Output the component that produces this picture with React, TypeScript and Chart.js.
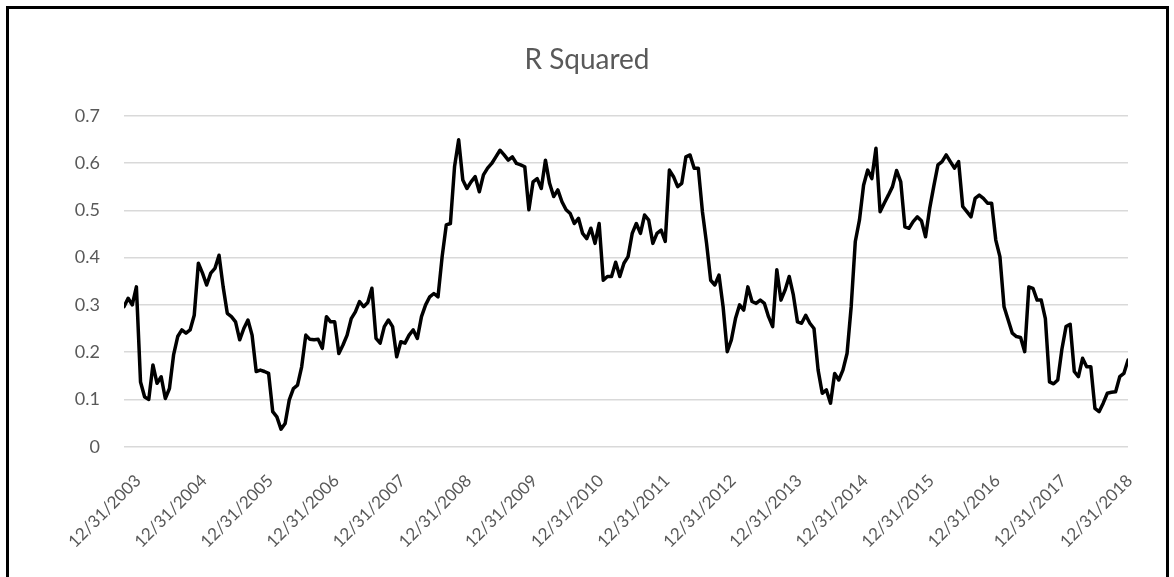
import { useEffect, useRef } from "react";
import { Chart, registerables } from "chart.js";

Chart.register(...registerables);

// x positions are years after 12/31/2003; one sample every 1/16 year
const startYear = -0.2125;
const stepYear = 1 / 16;

const rSquared = [
  0.296, 0.314, 0.3, 0.338, 0.137, 0.105, 0.1, 0.173, 0.134, 0.148,
  0.102, 0.123, 0.194, 0.233, 0.247, 0.24, 0.247, 0.278, 0.388, 0.367,
  0.342, 0.367, 0.377, 0.405, 0.338, 0.282, 0.275, 0.264, 0.226, 0.25,
  0.268, 0.236, 0.159, 0.162, 0.159, 0.155, 0.074, 0.063, 0.037, 0.049,
  0.099, 0.123, 0.13, 0.169, 0.236, 0.227, 0.226, 0.227, 0.208, 0.275,
  0.264, 0.264, 0.197, 0.215, 0.236, 0.271, 0.285, 0.307, 0.296, 0.305,
  0.335, 0.229, 0.219, 0.254, 0.268, 0.254, 0.19, 0.222, 0.219, 0.236,
  0.247, 0.229, 0.275, 0.3, 0.317, 0.324, 0.317, 0.402, 0.469, 0.472,
  0.592, 0.649, 0.564, 0.546, 0.56, 0.571, 0.539, 0.575, 0.589, 0.599,
  0.613, 0.627, 0.617, 0.606, 0.613, 0.599, 0.596, 0.592, 0.501, 0.56,
  0.567, 0.546, 0.606, 0.557, 0.529, 0.543, 0.518, 0.501, 0.493, 0.472,
  0.483, 0.451, 0.44, 0.462, 0.43, 0.472, 0.352, 0.36, 0.36, 0.39,
  0.36, 0.388, 0.402, 0.451, 0.472, 0.451, 0.49, 0.479, 0.43, 0.451,
  0.458, 0.434, 0.585, 0.571, 0.55, 0.557, 0.613, 0.617, 0.589, 0.589,
  0.497, 0.43, 0.352, 0.342, 0.363, 0.296, 0.201, 0.226, 0.271, 0.3,
  0.289, 0.338, 0.307, 0.303, 0.31, 0.303, 0.275, 0.254, 0.374, 0.31,
  0.331, 0.36, 0.321, 0.264, 0.261, 0.278, 0.261, 0.25, 0.162, 0.113,
  0.12, 0.092, 0.155, 0.141, 0.162, 0.197, 0.296, 0.434, 0.479, 0.553,
  0.585, 0.567, 0.631, 0.497, 0.515, 0.532, 0.55, 0.584, 0.56, 0.465,
  0.462, 0.476, 0.486, 0.478, 0.444, 0.504, 0.551, 0.596, 0.603, 0.617,
  0.603, 0.589, 0.603, 0.508, 0.497, 0.486, 0.525, 0.532, 0.525, 0.515,
  0.515, 0.437, 0.402, 0.296, 0.268, 0.24, 0.233, 0.231, 0.201, 0.338,
  0.335, 0.31, 0.31, 0.271, 0.137, 0.133, 0.141, 0.206, 0.254, 0.259,
  0.159, 0.148, 0.187, 0.169, 0.169, 0.081, 0.074, 0.092, 0.113, 0.115,
  0.116, 0.148, 0.155, 0.183,
];

const xTickLabels = [
  "12/31/2003", "12/31/2004", "12/31/2005", "12/31/2006", "12/31/2007",
  "12/31/2008", "12/31/2009", "12/31/2010", "12/31/2011", "12/31/2012",
  "12/31/2013", "12/31/2014", "12/31/2015", "12/31/2016", "12/31/2017",
  "12/31/2018",
];
const yTickValues = [0, 0.1, 0.2, 0.3, 0.4, 0.5, 0.6, 0.7];
const yTickLabels = ["0", "0.1", "0.2", "0.3", "0.4", "0.5", "0.6", "0.7"];
const chartTitle = "R Squared";

const TEXT = "#595959";
const FONT = "Lato, 'Noto Sans', sans-serif";

const titlePlugin = {
  id: "centeredTitle",
  afterDraw(chart: any) {
    const ctx = chart.ctx;
    ctx.save();
    ctx.fillStyle = TEXT;
    ctx.font = `normal 28px ${FONT}`;
    ctx.textAlign = "center";
    ctx.textBaseline = "middle";
    ctx.fillText(chartTitle, chart.width / 2, 60);
    ctx.restore();
  },
};

export default function App() {
  const ref = useRef<HTMLCanvasElement>(null);

  useEffect(() => {
    document.body.style.margin = "0";
    const points = rSquared.map((v, i) => ({ x: startYear + i * stepYear, y: v }));
    const chart = new Chart(ref.current as HTMLCanvasElement, {
      type: "line",
      data: {
        datasets: [
          {
            label: chartTitle,
            data: points,
            borderColor: "#000000",
            borderWidth: 3.5,
            pointRadius: 0,
            tension: 0,
            borderJoinStyle: "round",
            borderCapStyle: "round",
          },
        ],
      },
      plugins: [titlePlugin],
      options: {
        animation: false,
        responsive: false,
        layout: { padding: { left: 0, right: 46, top: 115.7, bottom: 0 } },
        plugins: {
          legend: { display: false },
          tooltip: { enabled: false },
          title: { display: false },
        },
        scales: {
          x: {
            type: "linear",
            min: startYear,
            max: startYear + (rSquared.length - 1) * stepYear,
            grid: { display: false },
            border: { display: false },
            afterBuildTicks: (s: any) => {
              s.ticks = xTickLabels.map((_, k) => ({ value: k }));
            },
            afterFit: (s: any) => {
              s.height = 130.3;
            },
            ticks: {
              autoSkip: false,
              minRotation: 45,
              maxRotation: 45,
              padding: 16,
              color: TEXT,
              font: { family: FONT, size: 17 },
              callback: (v: any) => xTickLabels[Math.round(Number(v))],
            },
          },
          y: {
            min: 0,
            max: 0.7,
            afterBuildTicks: (s: any) => {
              s.ticks = yTickValues.map((v) => ({ value: v }));
            },
            afterFit: (s: any) => {
              s.width = 124;
            },
            grid: { color: "#d9d9d9", lineWidth: 1.5, drawTicks: false },
            border: { display: false },
            ticks: {
              padding: 24,
              color: TEXT,
              font: { family: FONT, size: 18 },
              callback: (_v: any, i: number) => yTickLabels[i],
            },
          },
        },
      },
    });
    return () => chart.destroy();
  }, []);

  return (
    <div style={{ position: "relative", width: 1174, height: 577, overflow: "hidden", background: "#ffffff" }}>
      <canvas ref={ref} width={1174} height={577} style={{ position: "absolute", left: 0, top: 0 }} />
      <div
        style={{
          position: "absolute",
          left: 6,
          top: 6,
          width: 1157,
          height: 620,
          border: "3px solid #000000",
          boxSizing: "content-box",
          pointerEvents: "none",
        }}
      />
    </div>
  );
}
